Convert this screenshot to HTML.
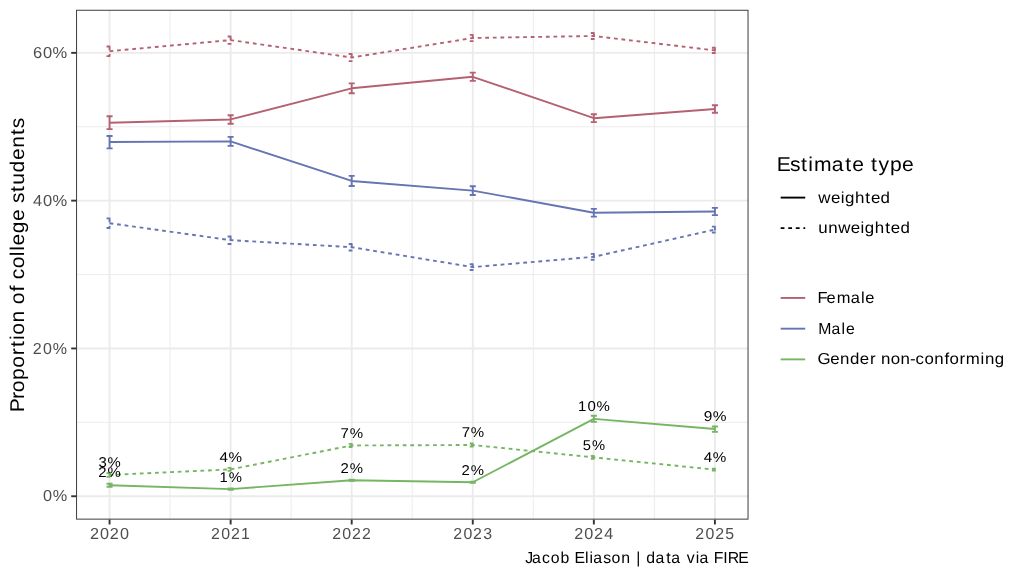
<!DOCTYPE html>
<html><head><meta charset="utf-8"><title>Gender proportion of college students</title>
<style>html,body{margin:0;padding:0;background:#fff;}svg{display:block;will-change:transform}text{font-family:"Liberation Sans",sans-serif;text-rendering:geometricPrecision;}</style></head><body>
<svg width="1024" height="576" viewBox="0 0 1024 576">
<rect x="0" y="0" width="1024" height="576" fill="#ffffff"/>
<defs><clipPath id="pc"><rect x="76.1" y="9.78" width="672.40" height="509.82"/></clipPath></defs>
<g clip-path="url(#pc)">
<g stroke="#ebebeb" stroke-width="0.95" fill="none">
<line x1="76.1" x2="748.5" y1="422.35" y2="422.35"/>
<line x1="76.1" x2="748.5" y1="274.55" y2="274.55"/>
<line x1="76.1" x2="748.5" y1="126.75" y2="126.75"/>
<line y1="9.78" y2="519.6" x1="170.09" x2="170.09"/>
<line y1="9.78" y2="519.6" x1="291.16" x2="291.16"/>
<line y1="9.78" y2="519.6" x1="412.23" x2="412.23"/>
<line y1="9.78" y2="519.6" x1="533.31" x2="533.31"/>
<line y1="9.78" y2="519.6" x1="654.38" x2="654.38"/>
</g>
<g stroke="#ebebeb" stroke-width="1.9" fill="none">
<line x1="76.1" x2="748.5" y1="496.25" y2="496.25"/>
<line x1="76.1" x2="748.5" y1="348.45" y2="348.45"/>
<line x1="76.1" x2="748.5" y1="200.65" y2="200.65"/>
<line x1="76.1" x2="748.5" y1="52.85" y2="52.85"/>
<line y1="9.78" y2="519.6" x1="109.56" x2="109.56"/>
<line y1="9.78" y2="519.6" x1="230.63" x2="230.63"/>
<line y1="9.78" y2="519.6" x1="351.70" x2="351.70"/>
<line y1="9.78" y2="519.6" x1="472.77" x2="472.77"/>
<line y1="9.78" y2="519.6" x1="593.84" x2="593.84"/>
<line y1="9.78" y2="519.6" x1="714.91" x2="714.91"/>
</g>
<polyline points="109.56,122.70 230.63,119.45 351.70,88.30 472.77,76.80 593.84,118.20 714.91,109.00" fill="none" stroke="#B46271" stroke-width="1.9" stroke-linejoin="round"/>
<polyline points="109.56,51.20 230.63,40.10 351.70,57.50 472.77,38.00 593.84,36.00 714.91,50.40" fill="none" stroke="#B46271" stroke-width="1.9" stroke-linejoin="round" stroke-dasharray="3.79 3.79"/>
<polyline points="109.56,142.00 230.63,141.35 351.70,180.95 472.77,190.60 593.84,212.70 714.91,211.50" fill="none" stroke="#6574B3" stroke-width="1.9" stroke-linejoin="round"/>
<polyline points="109.56,223.20 230.63,240.15 351.70,247.20 472.77,267.10 593.84,256.80 714.91,229.55" fill="none" stroke="#6574B3" stroke-width="1.9" stroke-linejoin="round" stroke-dasharray="3.79 3.79"/>
<polyline points="109.56,485.20 230.63,489.10 351.70,480.25 472.77,482.25 593.84,418.90 714.91,429.00" fill="none" stroke="#76B564" stroke-width="1.9" stroke-linejoin="round"/>
<polyline points="109.56,474.95 230.63,469.40 351.70,445.45 472.77,445.00 593.84,457.40 714.91,469.65" fill="none" stroke="#76B564" stroke-width="1.9" stroke-linejoin="round" stroke-dasharray="3.79 3.79"/>
<path d="M106.53,116.25L112.59,116.25M106.53,129.10L112.59,129.10M109.56,116.25L109.56,129.10" fill="none" stroke="#B46271" stroke-width="1.9"/>
<path d="M227.60,115.25L233.66,115.25M227.60,123.75L233.66,123.75M230.63,115.25L230.63,123.75" fill="none" stroke="#B46271" stroke-width="1.9"/>
<path d="M348.68,83.40L354.72,83.40M348.68,93.25L354.72,93.25M351.70,83.40L351.70,93.25" fill="none" stroke="#B46271" stroke-width="1.9"/>
<path d="M469.75,72.60L475.79,72.60M469.75,80.90L475.79,80.90M472.77,72.60L472.77,80.90" fill="none" stroke="#B46271" stroke-width="1.9"/>
<path d="M590.81,114.25L596.86,114.25M590.81,122.10L596.86,122.10M593.84,114.25L593.84,122.10" fill="none" stroke="#B46271" stroke-width="1.9"/>
<path d="M711.88,105.25L717.93,105.25M711.88,112.75L717.93,112.75M714.91,105.25L714.91,112.75" fill="none" stroke="#B46271" stroke-width="1.9"/>
<path d="M106.53,46.50L112.59,46.50M106.53,56.10L112.59,56.10M109.56,46.50L109.56,56.10" fill="none" stroke="#B46271" stroke-width="1.9" stroke-dasharray="3.79 3.79"/>
<path d="M227.60,36.50L233.66,36.50M227.60,43.90L233.66,43.90M230.63,36.50L230.63,43.90" fill="none" stroke="#B46271" stroke-width="1.9" stroke-dasharray="3.79 3.79"/>
<path d="M348.68,54.00L354.72,54.00M348.68,61.10L354.72,61.10M351.70,54.00L351.70,61.10" fill="none" stroke="#B46271" stroke-width="1.9" stroke-dasharray="3.79 3.79"/>
<path d="M469.75,34.90L475.79,34.90M469.75,41.10L475.79,41.10M472.77,34.90L472.77,41.10" fill="none" stroke="#B46271" stroke-width="1.9" stroke-dasharray="3.79 3.79"/>
<path d="M590.81,33.00L596.86,33.00M590.81,39.00L596.86,39.00M593.84,33.00L593.84,39.00" fill="none" stroke="#B46271" stroke-width="1.9" stroke-dasharray="3.79 3.79"/>
<path d="M711.88,47.75L717.93,47.75M711.88,53.00L717.93,53.00M714.91,47.75L714.91,53.00" fill="none" stroke="#B46271" stroke-width="1.9" stroke-dasharray="3.79 3.79"/>
<path d="M106.53,136.00L112.59,136.00M106.53,148.40L112.59,148.40M109.56,136.00L109.56,148.40" fill="none" stroke="#6574B3" stroke-width="1.9"/>
<path d="M227.60,136.90L233.66,136.90M227.60,145.90L233.66,145.90M230.63,136.90L230.63,145.90" fill="none" stroke="#6574B3" stroke-width="1.9"/>
<path d="M348.68,175.90L354.72,175.90M348.68,186.00L354.72,186.00M351.70,175.90L351.70,186.00" fill="none" stroke="#6574B3" stroke-width="1.9"/>
<path d="M469.75,186.25L475.79,186.25M469.75,195.00L475.79,195.00M472.77,186.25L472.77,195.00" fill="none" stroke="#6574B3" stroke-width="1.9"/>
<path d="M590.81,208.90L596.86,208.90M590.81,216.60L596.86,216.60M593.84,208.90L593.84,216.60" fill="none" stroke="#6574B3" stroke-width="1.9"/>
<path d="M711.88,207.90L717.93,207.90M711.88,215.10L717.93,215.10M714.91,207.90L714.91,215.10" fill="none" stroke="#6574B3" stroke-width="1.9"/>
<path d="M106.53,218.40L112.59,218.40M106.53,228.00L112.59,228.00M109.56,218.40L109.56,228.00" fill="none" stroke="#6574B3" stroke-width="1.9" stroke-dasharray="3.79 3.79"/>
<path d="M227.60,236.50L233.66,236.50M227.60,244.00L233.66,244.00M230.63,236.50L230.63,244.00" fill="none" stroke="#6574B3" stroke-width="1.9" stroke-dasharray="3.79 3.79"/>
<path d="M348.68,244.00L354.72,244.00M348.68,250.50L354.72,250.50M351.70,244.00L351.70,250.50" fill="none" stroke="#6574B3" stroke-width="1.9" stroke-dasharray="3.79 3.79"/>
<path d="M469.75,264.25L475.79,264.25M469.75,270.00L475.79,270.00M472.77,264.25L472.77,270.00" fill="none" stroke="#6574B3" stroke-width="1.9" stroke-dasharray="3.79 3.79"/>
<path d="M590.81,253.90L596.86,253.90M590.81,259.75L596.86,259.75M593.84,253.90L593.84,259.75" fill="none" stroke="#6574B3" stroke-width="1.9" stroke-dasharray="3.79 3.79"/>
<path d="M711.88,226.60L717.93,226.60M711.88,232.50L717.93,232.50M714.91,226.60L714.91,232.50" fill="none" stroke="#6574B3" stroke-width="1.9" stroke-dasharray="3.79 3.79"/>
<path d="M106.53,483.70L112.59,483.70M106.53,486.80L112.59,486.80M109.56,483.70L109.56,486.80" fill="none" stroke="#76B564" stroke-width="1.9"/>
<path d="M227.60,488.50L233.66,488.50M227.60,489.80L233.66,489.80M230.63,488.50L230.63,489.80" fill="none" stroke="#76B564" stroke-width="1.9"/>
<path d="M348.68,479.60L354.72,479.60M348.68,480.90L354.72,480.90M351.70,479.60L351.70,480.90" fill="none" stroke="#76B564" stroke-width="1.9"/>
<path d="M469.75,481.70L475.79,481.70M469.75,482.80L475.79,482.80M472.77,481.70L472.77,482.80" fill="none" stroke="#76B564" stroke-width="1.9"/>
<path d="M590.81,415.75L596.86,415.75M590.81,421.90L596.86,421.90M593.84,415.75L593.84,421.90" fill="none" stroke="#76B564" stroke-width="1.9"/>
<path d="M711.88,426.50L717.93,426.50M711.88,431.90L717.93,431.90M714.91,426.50L714.91,431.90" fill="none" stroke="#76B564" stroke-width="1.9"/>
<path d="M106.53,473.20L112.59,473.20M106.53,476.90L112.59,476.90M109.56,473.20L109.56,476.90" fill="none" stroke="#76B564" stroke-width="1.9" stroke-dasharray="3.79 3.79"/>
<path d="M227.60,467.90L233.66,467.90M227.60,470.85L233.66,470.85M230.63,467.90L230.63,470.85" fill="none" stroke="#76B564" stroke-width="1.9" stroke-dasharray="3.79 3.79"/>
<path d="M348.68,443.85L354.72,443.85M348.68,447.05L354.72,447.05M351.70,443.85L351.70,447.05" fill="none" stroke="#76B564" stroke-width="1.9" stroke-dasharray="3.79 3.79"/>
<path d="M469.75,443.50L475.79,443.50M469.75,446.50L475.79,446.50M472.77,443.50L472.77,446.50" fill="none" stroke="#76B564" stroke-width="1.9" stroke-dasharray="3.79 3.79"/>
<path d="M590.81,456.00L596.86,456.00M590.81,458.80L596.86,458.80M593.84,456.00L593.84,458.80" fill="none" stroke="#76B564" stroke-width="1.9" stroke-dasharray="3.79 3.79"/>
<path d="M711.88,468.70L717.93,468.70M711.88,470.60L717.93,470.60M714.91,468.70L714.91,470.60" fill="none" stroke="#76B564" stroke-width="1.9" stroke-dasharray="3.79 3.79"/>
<text transform="translate(109.56,477.40) scale(1.0502,1)" x="-10.74 -1.89" y="0" font-size="14.2" fill="#000">2%</text>
<text transform="translate(230.63,482.05) scale(1.0455,1)" x="-10.65 -1.87" y="0" font-size="14.2" fill="#000">1%</text>
<text transform="translate(351.70,472.80) scale(1.0502,1)" x="-10.74 -1.89" y="0" font-size="14.2" fill="#000">2%</text>
<text transform="translate(472.77,474.90) scale(1.0502,1)" x="-10.74 -1.89" y="0" font-size="14.2" fill="#000">2%</text>
<text transform="translate(593.84,411.05) scale(1.0558,1)" x="-14.99 -6.12 2.49" y="0" font-size="14.2" fill="#000">10%</text>
<text transform="translate(714.91,421.20) scale(1.0876,1)" x="-10.37 -2.04" y="0" font-size="14.2" fill="#000">9%</text>
<text transform="translate(109.56,467.30) scale(1.0483,1)" x="-10.55 -1.88" y="0" font-size="14.2" fill="#000">3%</text>
<text transform="translate(230.63,461.90) scale(1.0699,1)" x="-10.44 -1.97" y="0" font-size="14.2" fill="#000">4%</text>
<text transform="translate(351.70,437.80) scale(1.0580,1)" x="-10.54 -1.92" y="0" font-size="14.2" fill="#000">7%</text>
<text transform="translate(472.77,437.40) scale(1.0580,1)" x="-10.54 -1.92" y="0" font-size="14.2" fill="#000">7%</text>
<text transform="translate(593.84,449.80) scale(1.0393,1)" x="-10.68 -1.84" y="0" font-size="14.2" fill="#000">5%</text>
<text transform="translate(714.91,462.05) scale(1.0699,1)" x="-10.44 -1.97" y="0" font-size="14.2" fill="#000">4%</text>
</g>
<rect x="76.575" y="10.255" width="671.450" height="508.870" fill="none" stroke="#333333" stroke-width="0.95"/>
<g stroke="#333333" stroke-width="1.9" fill="none">
<line x1="71.21" x2="76.1" y1="496.25" y2="496.25"/>
<line x1="71.21" x2="76.1" y1="348.45" y2="348.45"/>
<line x1="71.21" x2="76.1" y1="200.65" y2="200.65"/>
<line x1="71.21" x2="76.1" y1="52.85" y2="52.85"/>
<line y1="519.6" y2="524.49" x1="109.56" x2="109.56"/>
<line y1="519.6" y2="524.49" x1="230.63" x2="230.63"/>
<line y1="519.6" y2="524.49" x1="351.70" x2="351.70"/>
<line y1="519.6" y2="524.49" x1="472.77" x2="472.77"/>
<line y1="519.6" y2="524.49" x1="593.84" x2="593.84"/>
<line y1="519.6" y2="524.49" x1="714.91" x2="714.91"/>
</g>
<text transform="translate(67.31,501.35) scale(1.0235,1)" x="-23.81 -14.33" y="0" font-size="15.9" fill="#4d4d4d">0%</text>
<text transform="translate(67.31,353.55) scale(1.0101,1)" x="-34.12 -24.06 -14.43" y="0" font-size="15.9" fill="#4d4d4d">20%</text>
<text transform="translate(67.31,205.75) scale(1.0369,1)" x="-33.15 -23.56 -14.23" y="0" font-size="15.9" fill="#4d4d4d">40%</text>
<text transform="translate(67.31,57.95) scale(1.0369,1)" x="-33.15 -23.56 -14.23" y="0" font-size="15.9" fill="#4d4d4d">60%</text>
<text transform="translate(109.56,538.90) scale(1.0182,1)" x="-19.29 -9.31 0.26 10.23" y="0" font-size="15.9" fill="#4d4d4d">2020</text>
<text transform="translate(230.63,538.90) scale(0.9995,1)" x="-19.57 -9.40 0.35 10.43" y="0" font-size="15.9" fill="#4d4d4d">2021</text>
<text transform="translate(351.70,538.90) scale(0.9995,1)" x="-19.57 -9.40 0.35 10.30" y="0" font-size="15.9" fill="#4d4d4d">2022</text>
<text transform="translate(472.77,538.90) scale(0.9995,1)" x="-19.57 -9.40 0.35 10.53" y="0" font-size="15.9" fill="#4d4d4d">2023</text>
<text transform="translate(593.84,538.90) scale(1.0182,1)" x="-19.29 -9.31 0.26 10.23" y="0" font-size="15.9" fill="#4d4d4d">2024</text>
<text transform="translate(714.91,538.90) scale(0.9995,1)" x="-19.57 -9.40 0.35 10.45" y="0" font-size="15.9" fill="#4d4d4d">2025</text>
<text transform="translate(24.00,264.69) rotate(-90) scale(1.0597,1)" x="-139.23 -126.83 -120.36 -108.75 -97.35 -85.35 -77.78 -70.98 -66.10 -54.57 -43.06 -37.24 -25.35 -19.40 -13.83 -3.44 8.09 13.22 18.17 29.57 41.25 52.59 58.25 68.71 75.42 87.06 98.74 110.27 122.41 128.81" y="0" font-size="19.9" fill="#000">Proportion of college students</text>
<text transform="translate(748.50,562.90) scale(0.9962,1)" x="-224.18 -217.37 -207.40 -198.54 -188.66 -179.07 -174.75 -164.03 -159.66 -155.92 -145.88 -137.54 -127.73 -118.08 -112.80 -107.81 -102.64 -93.33 -82.69 -77.55 -67.45 -62.08 -53.04 -49.29 -39.19 -34.85 -25.35 -20.85 -10.30" y="0" font-size="15.9" fill="#000">Jacob Eliason | data via FIRE</text>
<text transform="translate(777.60,170.80) scale(1.0617,1)" x="-0.89 11.60 22.04 28.82 34.32 50.93 63.62 70.21 81.54 88.03 94.93 105.78 117.23" y="0" font-size="19.9" fill="#000">Estimate type</text>
<line x1="780.67" x2="805.23" y1="197.6" y2="197.6" stroke="#000" stroke-width="1.9"/>
<line x1="780.67" x2="805.23" y1="228.1" y2="228.1" stroke="#000" stroke-width="1.9" stroke-dasharray="3.79 3.79"/>
<text transform="translate(818.08,202.60) scale(1.0652,1)" x="0.26 12.13 21.32 25.28 34.68 44.38 49.63 58.69" y="0" font-size="15.9" fill="#000">weighted</text>
<text transform="translate(818.08,233.10) scale(1.0625,1)" x="0.21 9.60 18.93 30.84 40.04 44.01 53.44 63.16 68.43 77.51" y="0" font-size="15.9" fill="#000">unweighted</text>
<line x1="780.67" x2="805.23" y1="297.95" y2="297.95" stroke="#B46271" stroke-width="1.9"/>
<text transform="translate(818.08,302.95) scale(1.0340,1)" x="-0.54 8.14 17.96 31.56 41.52 45.65" y="0" font-size="15.9" fill="#000">Female</text>
<line x1="780.67" x2="805.23" y1="328.67" y2="328.67" stroke="#6574B3" stroke-width="1.9"/>
<text transform="translate(818.08,333.67) scale(0.9931,1)" x="0.18 13.41 23.66 28.07" y="0" font-size="15.9" fill="#000">Male</text>
<line x1="780.67" x2="805.23" y1="359.39" y2="359.39" stroke="#76B564" stroke-width="1.9"/>
<text transform="translate(818.08,364.39) scale(1.0605,1)" x="-0.47 11.57 20.78 30.02 39.35 48.94 54.48 59.32 68.47 77.69 86.76 91.97 100.27 109.49 119.12 123.83 133.42 139.17 153.22 157.31 166.55" y="0" font-size="15.9" fill="#000">Gender non-conforming</text>
</svg></body></html>
